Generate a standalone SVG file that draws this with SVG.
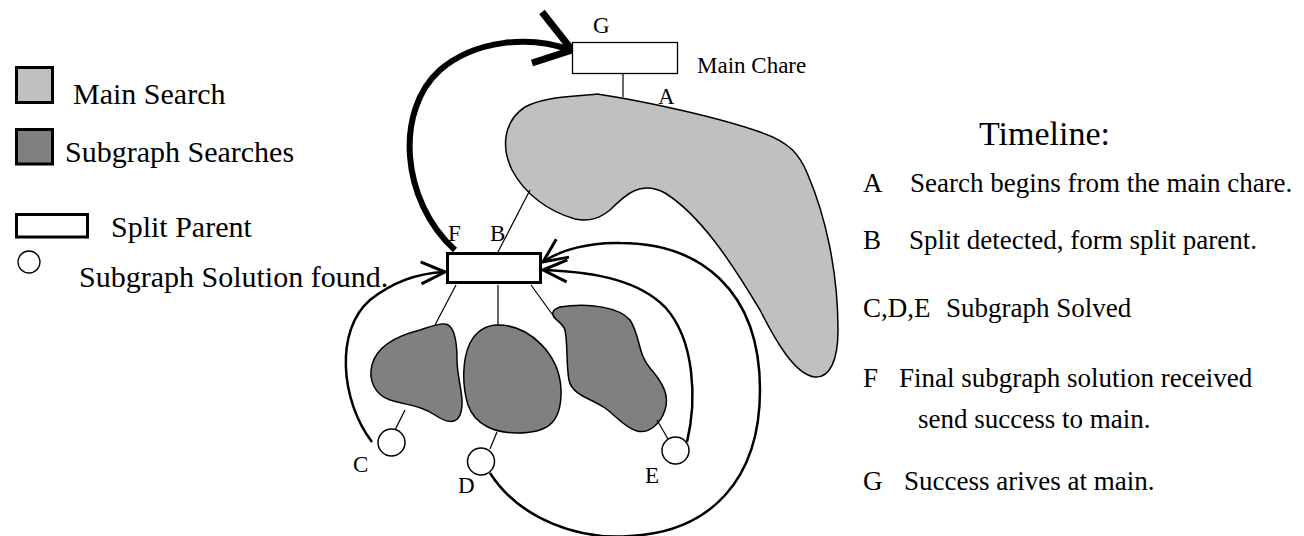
<svg xmlns="http://www.w3.org/2000/svg" width="1304" height="536" viewBox="0 0 1304 536">
<style>
text{font-family:"Liberation Serif","Times New Roman",serif;fill:#000}
.leg{font-size:30px}
.tl{font-size:27px}
.lbl{font-size:23px}
.main{fill:#c0c0c0;stroke:#000;stroke-width:1.5}
.sub{fill:#808080;stroke:#000;stroke-width:1.5}
.thin{stroke:#000;stroke-width:1.2;fill:none}
.arc{stroke:#000;stroke-width:2.5;fill:none;marker-end:url(#open)}
.sol{fill:#fff;stroke:#000;stroke-width:1.5}
</style>
<defs>
<marker id="open" markerUnits="userSpaceOnUse" markerWidth="40" markerHeight="40" refX="0" refY="0" viewBox="-30 -20 40 40" orient="auto" overflow="visible">
<path d="M-24,-11 L0,0 L-24,11" fill="none" stroke="#000" stroke-width="3"/>
</marker>
</defs>
<rect width="1304" height="536" fill="#fff"/>

<g id="legend">
<rect x="16.5" y="67.5" width="36" height="35" fill="#c0c0c0" stroke="#000" stroke-width="3"/>
<text class="leg" x="73" y="104">Main Search</text>
<rect x="16.5" y="129.5" width="36" height="34.5" fill="#808080" stroke="#000" stroke-width="3"/>
<text class="leg" x="65" y="162">Subgraph Searches</text>
<rect x="16.5" y="214.5" width="71" height="22.5" fill="#fff" stroke="#000" stroke-width="3"/>
<text class="leg" x="111" y="237">Split Parent</text>
<circle cx="29" cy="262" r="11" fill="#fff" stroke="#000" stroke-width="1.3"/>
<text class="leg" x="79" y="287">Subgraph Solution found.</text>
</g>

<g id="timeline">
<text x="979" y="145" style="font-size:34px">Timeline:</text>
<text class="tl" x="863" y="192">A</text><text class="tl" x="910" y="192">Search begins from the main chare.</text>
<text class="tl" x="863" y="249">B</text><text class="tl" x="909" y="249">Split detected, form split parent.</text>
<text class="tl" x="863" y="317">C,D,E</text><text class="tl" x="946" y="317">Subgraph Solved</text>
<text class="tl" x="863" y="387">F</text><text class="tl" x="899" y="387">Final subgraph solution received</text>
<text class="tl" x="918" y="428">send success to main.</text>
<text class="tl" x="863" y="490">G</text><text class="tl" x="904" y="490">Success arives at main.</text>
</g>

<g id="main-search">
<path class="main" d="M597,94 C650,102 720,118 760,132 C790,142 800,155 808,175 C825,215 838,270 838,330 C838,360 830,378 815,377 C795,375 775,340 760,310 C730,260 700,215 665,193 C640,180 625,195 610,210 C600,218 590,222 575,219 C550,212 525,195 512,170 C500,145 505,120 525,107 C545,96 575,97 597,94 Z"/>
<text class="lbl" x="658" y="104">A</text>
</g>

<g id="subgraph-1">
<path class="sub" d="M445,324 C455,325 457,345 457,360 C457,380 466,400 460,415 C456,425 445,422 435,415 C420,405 405,405 390,400 C375,395 368,380 372,365 C377,345 400,335 420,330 C432,326 440,323 445,324 Z"/>
</g>
<g id="subgraph-2">
<path class="sub" d="M498,325 C530,325 560,355 561,390 C562,425 545,433 517,433 C495,433 475,425 468,405 C462,385 462,360 470,343 C476,332 486,325 498,325 Z"/>
</g>
<g id="subgraph-3">
<path class="sub" d="M560,307 C590,302 620,308 630,320 C640,335 638,355 650,368 C662,382 670,395 665,410 C660,425 648,434 637,431 C625,428 615,415 605,408 C590,398 572,395 569,380 C566,365 568,345 565,330 C563,322 550,318 553,312 C554,309 557,308 560,307 Z"/>
</g>

<g id="connectors">
<line class="thin" x1="623" y1="74" x2="623" y2="97"/>
<line class="thin" x1="530" y1="190" x2="498" y2="252"/>
<line class="thin" x1="456" y1="285" x2="435" y2="325"/>
<line class="thin" x1="498" y1="285" x2="498" y2="325"/>
<line class="thin" x1="531" y1="285" x2="552" y2="314"/>
<line class="thin" x1="405" y1="410" x2="395" y2="430"/>
<line class="thin" x1="497" y1="432" x2="490" y2="449"/>
<line class="thin" x1="657" y1="420" x2="668" y2="439"/>
<path class="arc" d="M372,442 C340,400 335,330 370,300 C395,280 420,273 445,272"/>
<path class="arc" d="M490,473 C520,520 580,540 630,536 C710,532 760,480 760,390 C760,290 700,243 620,243 C590,242 560,250 543,262"/>
<path class="arc" d="M687,442 C697,400 695,340 665,307 C640,282 600,272 543,270"/>
<path d="M455,250 C400,200 395,110 440,70 C475,40 530,35 570,50" fill="none" stroke="#000" stroke-width="6"/>
<path d="M542,12 L572,50 L532,63" fill="none" stroke="#000" stroke-width="7"/>
</g>

<g id="main-chare">
<rect x="572.5" y="42.5" width="105" height="31" fill="#fff" stroke="#000" stroke-width="1.3"/>
<text class="lbl" x="593" y="33">G</text>
<text class="lbl" x="697" y="73">Main Chare</text>
</g>

<g id="split-parent">
<rect x="447.5" y="253.5" width="93" height="29" fill="#fff" stroke="#000" stroke-width="3"/>
<text class="lbl" x="448" y="241">F</text>
<text class="lbl" x="490" y="241">B</text>
</g>

<g id="sol-C">
<circle class="sol" cx="391.5" cy="442.5" r="13.5"/>
<text class="lbl" x="353" y="472">C</text>
</g>
<g id="sol-D">
<circle class="sol" cx="481" cy="461.5" r="13.5"/>
<text class="lbl" x="458" y="493">D</text>
</g>
<g id="sol-E">
<circle class="sol" cx="675.5" cy="450.5" r="13.5"/>
<text class="lbl" x="645" y="483">E</text>
</g>
</svg>
